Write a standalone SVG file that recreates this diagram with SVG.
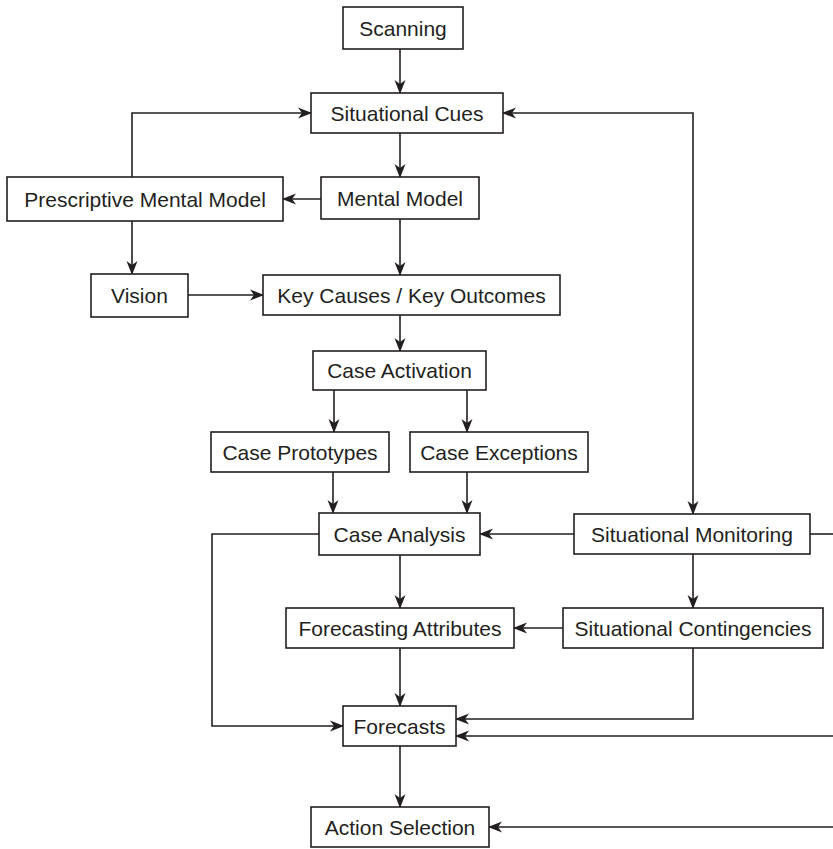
<svg xmlns="http://www.w3.org/2000/svg" width="833" height="849" viewBox="0 0 833 849">
<defs>
<style>
.box{fill:#fff;stroke:#231f20;stroke-width:1.6}
.lbl{font-family:"Liberation Sans",Arial,Helvetica,sans-serif;font-size:21px;fill:#231f20;text-anchor:middle}
.edge{fill:none;stroke:#231f20;stroke-width:1.6}
</style>
<marker id="ah" markerUnits="userSpaceOnUse" markerWidth="14" markerHeight="12" refX="13" refY="5.5" orient="auto-start-reverse" viewBox="0 0 14 11">
<path d="M0,0 L14,5.5 L0,11 L4,5.5 z" fill="#231f20"/>
</marker>
</defs>
<rect width="833" height="849" fill="#fff"/>
<g id="connectors">
<path class="edge" d="M400,49 V93" marker-end="url(#ah)"/>
<path class="edge" d="M400,133 V177" marker-end="url(#ah)"/>
<path class="edge" d="M321,199 H283" marker-end="url(#ah)"/>
<path class="edge" d="M132,177 V113 H311" marker-end="url(#ah)"/>
<path class="edge" d="M132,221 V274" marker-end="url(#ah)"/>
<path class="edge" d="M400,219 V275" marker-end="url(#ah)"/>
<path class="edge" d="M188,295 H263" marker-end="url(#ah)"/>
<path class="edge" d="M400,315 V351" marker-end="url(#ah)"/>
<path class="edge" d="M334,390 V432" marker-end="url(#ah)"/>
<path class="edge" d="M467,390 V432" marker-end="url(#ah)"/>
<path class="edge" d="M333,472 V513" marker-end="url(#ah)"/>
<path class="edge" d="M467,472 V513" marker-end="url(#ah)"/>
<path class="edge" d="M574,534 H480" marker-end="url(#ah)"/>
<path class="edge" d="M503,113 H693 V514" marker-start="url(#ah)" marker-end="url(#ah)"/>
<path class="edge" d="M693,554 V608" marker-end="url(#ah)"/>
<path class="edge" d="M563,628 H514" marker-end="url(#ah)"/>
<path class="edge" d="M693,648 V719 H456" marker-end="url(#ah)"/>
<path class="edge" d="M400,555 V608" marker-end="url(#ah)"/>
<path class="edge" d="M400,648 V706" marker-end="url(#ah)"/>
<path class="edge" d="M319,534 H212 V726 H343" marker-end="url(#ah)"/>
<path class="edge" d="M810,534 H834"/>
<path class="edge" d="M834,736 H456" marker-end="url(#ah)"/>
<path class="edge" d="M834,827 H489" marker-end="url(#ah)"/>
<path class="edge" d="M400,746 V807" marker-end="url(#ah)"/>
</g>
<g id="scanning"><rect class="box" x="343" y="7" width="120" height="42"/><text class="lbl" x="403" y="35.5">Scanning</text></g>
<g id="situational-cues"><rect class="box" x="311" y="93" width="192" height="40"/><text class="lbl" x="407" y="120.5">Situational Cues</text></g>
<g id="mental-model"><rect class="box" x="321" y="177" width="158" height="42"/><text class="lbl" x="400" y="205.5">Mental Model</text></g>
<g id="prescriptive-mental-model"><rect class="box" x="7" y="177" width="276" height="44"/><text class="lbl" x="145" y="206.5">Prescriptive Mental Model</text></g>
<g id="vision"><rect class="box" x="91" y="274" width="97" height="43"/><text class="lbl" x="139.5" y="303">Vision</text></g>
<g id="key-causes"><rect class="box" x="263" y="275" width="297" height="40"/><text class="lbl" x="411.5" y="302.5">Key Causes / Key Outcomes</text></g>
<g id="case-activation"><rect class="box" x="313" y="351" width="173" height="39"/><text class="lbl" x="399.5" y="378">Case Activation</text></g>
<g id="case-prototypes"><rect class="box" x="211" y="432" width="178" height="40"/><text class="lbl" x="300" y="459.5">Case Prototypes</text></g>
<g id="case-exceptions"><rect class="box" x="410" y="432" width="178" height="40"/><text class="lbl" x="499" y="459.5">Case Exceptions</text></g>
<g id="case-analysis"><rect class="box" x="319" y="513" width="161" height="42"/><text class="lbl" x="399.5" y="541.5">Case Analysis</text></g>
<g id="situational-monitoring"><rect class="box" x="574" y="514" width="236" height="40"/><text class="lbl" x="692" y="541.5">Situational Monitoring</text></g>
<g id="forecasting-attributes"><rect class="box" x="286" y="608" width="228" height="40"/><text class="lbl" x="400" y="635.5">Forecasting Attributes</text></g>
<g id="situational-contingencies"><rect class="box" x="563" y="608" width="260" height="40"/><text class="lbl" x="693" y="635.5">Situational Contingencies</text></g>
<g id="forecasts"><rect class="box" x="343" y="706" width="113" height="40"/><text class="lbl" x="399.5" y="733.5">Forecasts</text></g>
<g id="action-selection"><rect class="box" x="311" y="807" width="178" height="40"/><text class="lbl" x="400" y="834.5">Action Selection</text></g>
</svg>
